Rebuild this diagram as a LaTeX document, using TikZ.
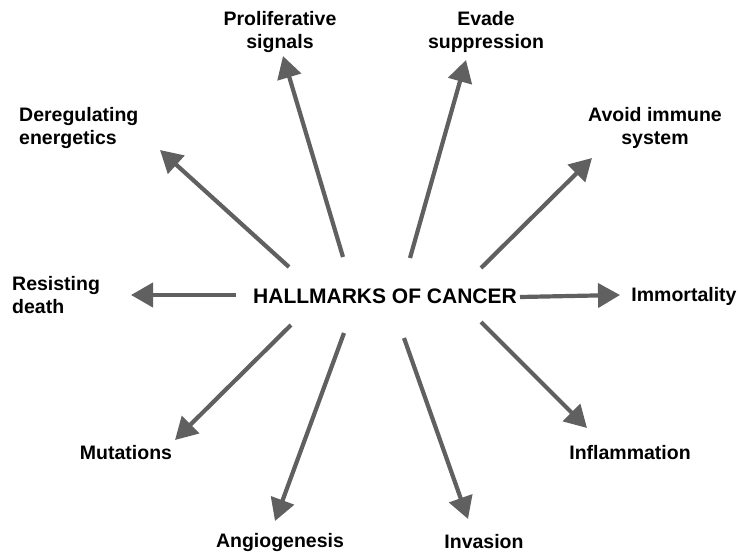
\documentclass[tikz,border=0pt]{standalone}
\usepackage{fontspec}
\setmainfont{Liberation Sans}
\usetikzlibrary{arrows.meta}
\definecolor{arr}{HTML}{606060}
\tikzset{
  hm/.style={-{Triangle[length=22pt,width=24pt]}, line width=4.2pt, draw=arr},
  lab/.style={font=\bfseries\fontsize{19.5}{23}\selectfont, align=center, inner sep=0pt},
  labl/.style={lab, align=left, anchor=west},
  ctr/.style={font=\bfseries\fontsize{21}{23}\selectfont, inner sep=0pt},
}
\begin{document}
\begin{tikzpicture}[x=1pt,y=-1pt]
\useasboundingbox (0,0) rectangle (739,554);
\node[ctr] (c) at (385,296) {HALLMARKS OF CANCER};
\node[lab] (l1) at (280,32) {Proliferative\\signals};
\node[lab] (l2) at (486,32) {Evade\\suppression};
\node[labl] (l3) at (19,128) {Deregulating\\energetics};
\node[lab] (l4) at (655,128) {Avoid immune\\system};
\node[labl] (l5) at (12,295) {Resisting\\death};
\node[lab] (l6) at (684,296) {Immortality};
\node[lab] (l7) at (126,453) {Mutations};
\node[lab] (l8) at (630,453) {Inflammation};
\node[lab] (l9) at (280,542) {Angiogenesis};
\node[lab] (l10) at (484,542) {Invasion};
% arrow ends
\coordinate (s1) at (343,257); \coordinate (t1) at (283,56);
\coordinate (s2) at (410,258); \coordinate (t2) at (466,60);
\coordinate (s3) at (289,267); \coordinate (t3) at (160,150);
\coordinate (s4) at (481,268); \coordinate (t4) at (592,158);
\coordinate (s5) at (236,295); \coordinate (t5) at (131,295);
\coordinate (s6) at (520,297); \coordinate (t6) at (620,295);
\coordinate (s7) at (291,325); \coordinate (t7) at (175,440);
\coordinate (s8) at (344,333); \coordinate (t8) at (275,521);
\coordinate (s9) at (404,338); \coordinate (t9) at (468,519);
\coordinate (s10) at (481,322); \coordinate (t10) at (587,428);
\foreach \i in {1,...,10} \draw[hm] (s\i) -- (t\i);
\end{tikzpicture}
\end{document}
